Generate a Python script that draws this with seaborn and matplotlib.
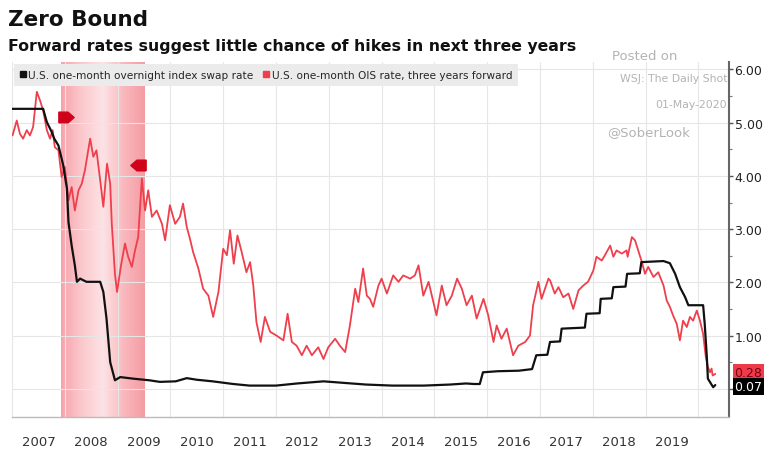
import numpy as np
import pandas as pd
import matplotlib
matplotlib.use("Agg")
import matplotlib.pyplot as plt
import seaborn as sns
from matplotlib.lines import Line2D
from matplotlib.path import Path
from matplotlib.colors import LinearSegmentedColormap

# ---- data (decimal years, percent) ----
ois_years = [2007.00, 2007.59, 2007.62, 2007.66, 2007.75, 2007.80, 2007.88, 2007.97,
             2008.04, 2008.07, 2008.13, 2008.19, 2008.23, 2008.29, 2008.41, 2008.67,
             2008.73, 2008.79, 2008.86, 2008.95, 2009.05, 2009.30, 2009.60, 2009.80,
             2010.10, 2010.31, 2010.50, 2010.80, 2011.19, 2011.50, 2012.00, 2012.40,
             2012.90, 2013.30, 2013.70, 2014.20, 2014.80, 2015.30, 2015.60, 2015.75,
             2015.86, 2015.92, 2016.20, 2016.60, 2016.85, 2016.93, 2017.14, 2017.19,
             2017.38, 2017.41, 2017.85, 2017.88, 2018.13, 2018.15, 2018.36, 2018.39,
             2018.62, 2018.65, 2018.89, 2018.92, 2019.34, 2019.46, 2019.56, 2019.65,
             2019.75, 2019.81, 2020.09, 2020.12, 2020.16, 2020.18, 2020.28, 2020.32]
ois_rate = [5.26, 5.26, 5.15, 5.01, 4.83, 4.70, 4.57, 4.20,
            3.76, 3.13, 2.69, 2.32, 2.01, 2.07, 2.01, 2.01,
            1.82, 1.32, 0.50, 0.16, 0.22, 0.19, 0.16, 0.13,
            0.14, 0.20, 0.17, 0.14, 0.09, 0.06, 0.06, 0.10,
            0.14, 0.11, 0.08, 0.06, 0.06, 0.08, 0.10, 0.09,
            0.09, 0.31, 0.33, 0.34, 0.37, 0.63, 0.64, 0.88,
            0.89, 1.13, 1.15, 1.41, 1.42, 1.69, 1.70, 1.91,
            1.92, 2.16, 2.17, 2.38, 2.40, 2.36, 2.16, 1.91,
            1.72, 1.57, 1.57, 1.22, 0.60, 0.19, 0.03, 0.07]

fwd_years = [2007.01, 2007.09, 2007.15, 2007.21, 2007.28, 2007.34, 2007.40, 2007.47,
             2007.53, 2007.59, 2007.66, 2007.72, 2007.77, 2007.81, 2007.88, 2007.94,
             2008.00, 2008.07, 2008.13, 2008.19, 2008.26, 2008.32, 2008.38, 2008.48,
             2008.54, 2008.60, 2008.67, 2008.73, 2008.80, 2008.86, 2008.89, 2008.95,
             2008.99, 2009.06, 2009.14, 2009.20, 2009.27, 2009.33, 2009.39, 2009.46,
             2009.52, 2009.58, 2009.65, 2009.74, 2009.84, 2009.90, 2009.99, 2010.09,
             2010.18, 2010.24, 2010.31, 2010.37, 2010.43, 2010.53, 2010.62, 2010.72,
             2010.81, 2010.91, 2011.00, 2011.07, 2011.13, 2011.20, 2011.27, 2011.35,
             2011.44, 2011.51, 2011.57, 2011.63, 2011.71, 2011.79, 2011.89, 2012.01,
             2012.14, 2012.22, 2012.30, 2012.39, 2012.49, 2012.58, 2012.68, 2012.80,
             2012.90, 2012.99, 2013.12, 2013.21, 2013.31, 2013.40, 2013.50, 2013.56,
             2013.65, 2013.72, 2013.78, 2013.84, 2013.94, 2014.00, 2014.10, 2014.22,
             2014.32, 2014.41, 2014.54, 2014.63, 2014.70, 2014.79, 2014.89, 2015.04,
             2015.14, 2015.23, 2015.33, 2015.43, 2015.52, 2015.61, 2015.71, 2015.80,
             2015.93, 2016.02, 2016.12, 2016.18, 2016.27, 2016.37, 2016.43, 2016.49,
             2016.59, 2016.72, 2016.81, 2016.87, 2016.97, 2017.03, 2017.16, 2017.19,
             2017.28, 2017.35, 2017.44, 2017.54, 2017.63, 2017.73, 2017.82, 2017.91,
             2018.01, 2018.07, 2018.17, 2018.23, 2018.33, 2018.39, 2018.45, 2018.55,
             2018.64, 2018.66, 2018.74, 2018.80, 2018.86, 2018.93, 2018.99, 2019.05,
             2019.15, 2019.24, 2019.34, 2019.40, 2019.46, 2019.52, 2019.59, 2019.65,
             2019.71, 2019.78, 2019.84, 2019.90, 2019.97, 2020.03, 2020.09, 2020.14,
             2020.18, 2020.22, 2020.25, 2020.27, 2020.32]
fwd_rate = [4.76, 5.04, 4.79, 4.70, 4.86, 4.76, 4.92, 5.58,
            5.42, 5.23, 4.86, 4.70, 4.86, 4.54, 4.48, 3.98,
            4.17, 3.54, 3.79, 3.35, 3.73, 3.85, 4.10, 4.70,
            4.36, 4.48, 3.92, 3.42, 4.23, 3.85, 3.10, 2.16,
            1.82, 2.29, 2.73, 2.48, 2.29, 2.60, 2.85, 3.95,
            3.35, 3.73, 3.23, 3.35, 3.10, 2.79, 3.45, 3.10,
            3.23, 3.48, 3.04, 2.82, 2.57, 2.26, 1.88, 1.75,
            1.35, 1.82, 2.63, 2.51, 2.98, 2.35, 2.88, 2.57,
            2.19, 2.38, 1.94, 1.25, 0.88, 1.35, 1.07, 1.00,
            0.91, 1.41, 0.88, 0.81, 0.63, 0.81, 0.63, 0.78,
            0.56, 0.78, 0.94, 0.81, 0.69, 1.19, 1.88, 1.63,
            2.26, 1.75, 1.69, 1.54, 1.94, 2.07, 1.79, 2.13,
            2.01, 2.13, 2.07, 2.13, 2.32, 1.75, 2.01, 1.38,
            1.94, 1.57, 1.75, 2.07, 1.88, 1.57, 1.75, 1.32,
            1.69, 1.38, 0.88, 1.19, 0.94, 1.13, 0.88, 0.63,
            0.81, 0.88, 1.00, 1.57, 2.01, 1.69, 2.07, 2.04,
            1.79, 1.91, 1.72, 1.79, 1.50, 1.85, 1.94, 2.01,
            2.22, 2.48, 2.41, 2.51, 2.69, 2.48, 2.60, 2.54,
            2.60, 2.48, 2.85, 2.79, 2.60, 2.38, 2.16, 2.29,
            2.10, 2.19, 1.94, 1.66, 1.54, 1.38, 1.22, 0.91,
            1.28, 1.16, 1.35, 1.28, 1.47, 1.28, 1.03, 0.60,
            0.41, 0.31, 0.38, 0.25, 0.28]

recession = (2007.92, 2009.50)
event_years = [2008.03, 2009.39]
event_levels = [5.11, 4.21]
year_edges = list(range(2007, 2021))
year_labels = [str(y) for y in range(2007, 2020)]
rate_ticks = [0, 1, 2, 3, 4, 5, 6]
last_ois = ois_rate[-1]
last_fwd = fwd_rate[-1]

ois_label = "U.S. one-month overnight index swap rate"
fwd_label = "U.S. one-month OIS rate, three years forward"

RED = "#ef3f4c"
BLACK = "#111111"

sns.set_style("white")
plt.rcParams['font.family'] = ['DejaVu Sans']

fig = plt.figure(figsize=(7.64, 4.56), dpi=100)
ax = fig.add_axes([12 / 764, 1 - 418 / 456, (729 - 12) / 764, (418 - 63) / 456])

ylo, yhi = -0.53, 6.14
xlo, xhi = 2007.0, 2020.58

# recession band with a soft gradient
cmap = LinearSegmentedColormap.from_list("rec", ["#f7a3ab", "#fbc9cd", "#fde3e5", "#f9b8bd", "#f59ba3"])
grad = np.linspace(0, 1, 256).reshape(1, -1)
ax.imshow(grad, cmap=cmap, aspect="auto", extent=[recession[0], recession[1], ylo, yhi],
          zorder=0, interpolation="bicubic")

df_fwd = pd.DataFrame({"year": fwd_years, "rate": fwd_rate})
df_ois = pd.DataFrame({"year": ois_years, "rate": ois_rate})
sns.lineplot(data=df_fwd, x="year", y="rate", ax=ax, color=RED, lw=1.3, zorder=3)
sns.lineplot(data=df_ois, x="year", y="rate", ax=ax, color=BLACK, lw=1.6, zorder=4)

# recession start / end markers
right_plate = Path([(-1, -0.7), (0.2, -0.7), (1, 0), (0.2, 0.7), (-1, 0.7), (-1, -0.7)])
left_plate = Path([(1, -0.7), (-0.2, -0.7), (-1, 0), (-0.2, 0.7), (1, 0.7), (1, -0.7)])
ax.plot(event_years[0], event_levels[0], marker=right_plate, ms=11, color="#d0021b", ls="none", zorder=5)
ax.plot(event_years[1], event_levels[1], marker=left_plate, ms=11, color="#d0021b", ls="none", zorder=5)

ax.set_xlim(xlo, xhi)
ax.set_ylim(ylo, yhi)

# x axis: separators at year edges, labels centred in each year
ax.set_xticks(year_edges)
ax.set_xticklabels([])
ax.set_xticks([y + 0.5 for y in range(2007, 2020)], minor=True)
ax.set_xticklabels(year_labels, minor=True)
ax.tick_params(axis="x", which="major", length=25, width=0.8, color="#d5d5d5", direction="out")
ax.tick_params(axis="x", which="minor", length=0, pad=13, labelsize=9.5, labelcolor="#333333")

# y axis on the right
ax.yaxis.tick_right()
ax.set_yticks(rate_ticks)
ax.set_yticklabels(["" if t == 0 else f"{t:.2f}" for t in rate_ticks])
ax.set_yticks([t + 0.5 for t in rate_ticks[:-1]], minor=True)
ax.tick_params(axis="y", which="major", length=3, width=1, color="#555555", pad=1,
               labelsize=9, labelcolor="#222222")
ax.tick_params(axis="y", which="minor", length=2, width=0.8, color="#777777")

ax.grid(True, which="major", color="#e6e6e6", lw=0.8)
ax.set_axisbelow(True)
ax.set_xlabel("")
ax.set_ylabel("")
for side in ["top", "left"]:
    ax.spines[side].set_visible(False)
ax.spines["right"].set_color("#666666")
ax.spines["right"].set_linewidth(1.5)
ax.spines["bottom"].set_color("#bbbbbb")
ax.spines["bottom"].set_linewidth(1)

# legend strip
handles = [Line2D([], [], marker="s", color=BLACK, ls="none", ms=5),
           Line2D([], [], marker="s", color=RED, ls="none", ms=5)]
leg = ax.legend(handles, [ois_label, fwd_label], loc="upper left", bbox_to_anchor=(0, 1),
                ncol=2, frameon=True, facecolor="#ebebeb", edgecolor="none", framealpha=1,
                fancybox=False, fontsize=7.6, handlelength=0.6, handletextpad=0.2,
                columnspacing=0.9, borderaxespad=0.2, borderpad=0.55)
leg.set_zorder(6)

# last value tags
ax.annotate(f"{last_fwd:.2f}", xy=(1, last_fwd), xycoords=("axes fraction", "data"),
            xytext=(4, 1), textcoords="offset points", ha="left", va="center",
            fontsize=9, color="#7a0010", annotation_clip=False, zorder=7,
            bbox=dict(boxstyle="square,pad=0.15", fc="#ee3b4a", ec="none"))
ax.annotate(f"{last_ois:.2f}", xy=(1, last_ois), xycoords=("axes fraction", "data"),
            xytext=(4, -1), textcoords="offset points", ha="left", va="center",
            fontsize=9, color="white", annotation_clip=False, zorder=8,
            bbox=dict(boxstyle="square,pad=0.15", fc="#000000", ec="none"))

# titles
fig.text(8 / 764, 1 - 20 / 456, "Zero Bound", fontsize=15.5, fontweight="bold", va="center", color="#111111")
fig.text(8 / 764, 1 - 47 / 456, "Forward rates suggest little chance of hikes in next three years",
         fontsize=11.3, fontweight="bold", va="center", color="#111111")

# watermark
wm = "#b3b3b3"
fig.text(612 / 764, 1 - 57 / 456, "Posted on", fontsize=9.5, color=wm, va="center", ha="left")
fig.text(727 / 764, 1 - 79 / 456, "WSJ: The Daily Shot", fontsize=7.8, color=wm, va="center", ha="right")
fig.text(727 / 764, 1 - 105 / 456, "01-May-2020", fontsize=7.8, color=wm, va="center", ha="right")
fig.text(607 / 764, 1 - 133 / 456, "@SoberLook", fontsize=9.5, color=wm, va="center", ha="left")

fig.savefig("out.png", dpi=100)
